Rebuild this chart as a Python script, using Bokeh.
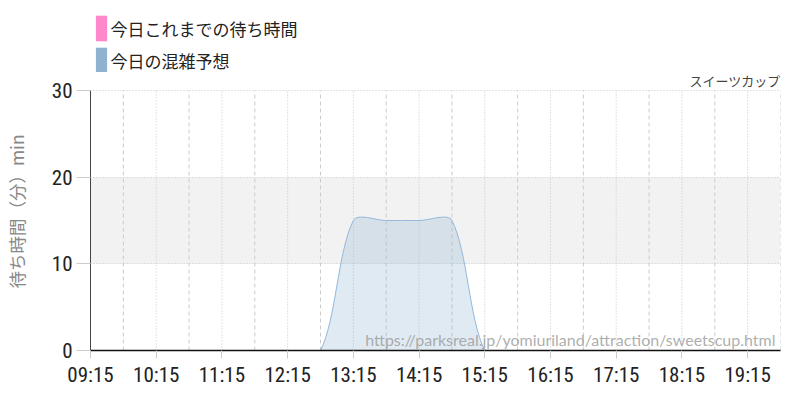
from bokeh.plotting import figure
from bokeh.layouts import column
from bokeh.models import (Range1d, FixedTicker, BoxAnnotation, Label,
                          Legend, LegendItem)
from bokeh.embed import file_html
from bokeh.resources import INLINE

# ---------------- data ----------------
attraction = "スイーツカップ"
series_names = ["今日これまでの待ち時間", "今日の混雑予想"]
y_label = "待ち時間（分）min"
watermark = "https://parksreal.jp/yomiuriland/attraction/sweetscup.html"

times = ["09:15", "09:45", "10:15", "10:45", "11:15", "11:45", "12:15", "12:45",
         "13:15", "13:45", "14:15", "14:45", "15:15", "15:45", "16:15", "16:45",
         "17:15", "17:45", "18:15", "18:45", "19:15", "19:45"]
forecast = [0, 0, 0, 0, 0, 0, 0, 0,
            15, 15, 15, 15, 0, 0, 0, 0,
            0, 0, 0, 0, 0, 0]
today_wait = []          # no recorded values yet
tick_labels = ["09:15", "10:15", "11:15", "12:15", "13:15", "14:15",
               "15:15", "16:15", "17:15", "18:15", "19:15"]
y_ticks = [0, 10, 20, 30]
band = [10, 20]

PINK = "#ff88cc"
BLUE = "#8fb2d0"
TICK_FONT = "Roboto Condensed, Liberation Sans Narrow, Roboto, sans-serif"
JP_FONT = "Noto Sans CJK JP"

W, H = 800, 400
HEAD = 72               # height of the legend strip
LEFT, RIGHT, BOTTOM = 90, 20, 50
TOP_OF_30 = 90 - HEAD   # pixel row of the 30-minute line inside the chart

NAN = float("nan")


def to_h(t):
    hh, mm = t.split(":")
    return int(hh) + int(mm) / 60.0


xs = [to_h(t) for t in times]
tick_pos = [to_h(t) for t in tick_labels]
half_pos = [to_h(t) for t in times if t.endswith(":45")]

main_h = H - HEAD
frame_w = W - LEFT - RIGHT
frame_h = main_h - BOTTOM
y_end = y_ticks[-1] * frame_h / (frame_h - TOP_OF_30)
sx_px = frame_w / (xs[-1] - xs[0])
sy_px = (frame_h - TOP_OF_30) / y_ticks[-1]


def smooth(xv, yv, tension=0.3, sx=sx_px, sy=sy_px, n=16):
    """Render-time spline (Chart.js style) through the data points."""
    pts = [(x * sx, y * sy) for x, y in zip(xv, yv)]
    ctrl = []
    for i, cur in enumerate(pts):
        prv = pts[i - 1] if i > 0 else cur
        nxt = pts[i + 1] if i < len(pts) - 1 else cur
        d01 = ((cur[0] - prv[0]) ** 2 + (cur[1] - prv[1]) ** 2) ** 0.5
        d12 = ((nxt[0] - cur[0]) ** 2 + (nxt[1] - cur[1]) ** 2) ** 0.5
        tot = d01 + d12
        s01 = d01 / tot if tot else 0
        s12 = d12 / tot if tot else 0
        fa, fb = tension * s01, tension * s12
        ctrl.append(((cur[0] - fa * (nxt[0] - prv[0]), cur[1] - fa * (nxt[1] - prv[1])),
                     (cur[0] + fb * (nxt[0] - prv[0]), cur[1] + fb * (nxt[1] - prv[1]))))
    ox, oy = [], []
    for i in range(len(pts) - 1):
        p0, p3 = pts[i], pts[i + 1]
        p1, p2 = ctrl[i][1], ctrl[i + 1][0]
        for k in range(n + (1 if i == len(pts) - 2 else 0)):
            t = k / n
            a, b, c, d = (1 - t) ** 3, 3 * (1 - t) ** 2 * t, 3 * (1 - t) * t ** 2, t ** 3
            ox.append((a * p0[0] + b * p1[0] + c * p2[0] + d * p3[0]) / sx)
            oy.append((a * p0[1] + b * p1[1] + c * p2[1] + d * p3[1]) / sy)
    return ox, oy


# ---------------- legend strip ----------------
head = figure(width=W, height=HEAD, output_backend="svg", toolbar_location=None,
              x_range=Range1d(0, W), y_range=Range1d(0, HEAD),
              x_axis_location=None, y_axis_location=None,
              min_border=0, min_border_left=0, min_border_right=0,
              min_border_top=0, min_border_bottom=0)
head.grid.visible = False
head.outline_line_color = None
head.background_fill_color = "white"
head.border_fill_color = "white"
lg_pink = head.varea(x=[NAN], y1=[NAN], y2=[NAN], fill_color=PINK, fill_alpha=1)
lg_blue = head.varea(x=[NAN], y1=[NAN], y2=[NAN], fill_color=BLUE, fill_alpha=1)
# the column aligns this strip's frame with the chart frame (starting at LEFT)
legend = Legend(items=[LegendItem(label=series_names[0], renderers=[lg_pink]),
                       LegendItem(label=series_names[1], renderers=[lg_blue])],
                location=(3.6, HEAD - 76), orientation="vertical",
                glyph_width=14, glyph_height=32, label_height=32,
                label_standoff=3, spacing=0, padding=0, margin=0,
                border_line_color=None, background_fill_alpha=0,
                label_text_font=JP_FONT,
                label_text_font_size="17px", label_text_color="#222222",
                label_text_baseline="middle")
head.add_layout(legend)

# ---------------- chart ----------------
p = figure(width=W, height=main_h, output_backend="svg", toolbar_location=None,
           x_range=Range1d(xs[0], xs[-1]),
           y_range=Range1d(y_ticks[0], y_end),
           min_border_left=LEFT, min_border_right=RIGHT,
           min_border_top=0, min_border_bottom=BOTTOM)
p.outline_line_color = None
p.background_fill_color = "white"
p.border_fill_color = "white"

p.add_layout(BoxAnnotation(bottom=band[0], top=band[1], fill_color="#f2f2f2",
                           fill_alpha=1, line_color=None, level="image"))

p.xgrid.visible = False
p.ygrid.ticker = FixedTicker(ticks=y_ticks)
p.ygrid.grid_line_color = "#c8c8c8"
p.ygrid.grid_line_dash = "1 2"
p.segment(x0=tick_pos, y0=[y_ticks[0]] * len(tick_pos), x1=tick_pos,
          y1=[y_ticks[-1]] * len(tick_pos),
          line_color="#c8c8c8", line_dash="1 2", line_width=1)
p.segment(x0=half_pos, y0=[y_ticks[0]] * len(half_pos), x1=half_pos,
          y1=[y_ticks[-1]] * len(half_pos),
          line_color="#cccccc", line_dash="4 3", line_width=1)

# today's recorded waits (none yet) and forecast area
wx = [to_h(t) for t, _ in today_wait] if today_wait else [NAN]
wy = [v for _, v in today_wait] if today_wait else [NAN]
p.varea(x=wx, y1=[0] * len(wx), y2=wy, fill_color=PINK, fill_alpha=1)

cx, cy = smooth(xs, forecast)
p.varea(x=cx, y1=[0] * len(cx), y2=cy, fill_color=BLUE, fill_alpha=0.28)
p.line(cx, cy, line_color="#93b7da", line_width=1)

# axes
p.xaxis.ticker = FixedTicker(ticks=tick_pos)
p.xaxis.major_label_overrides = {tp: lab for tp, lab in zip(tick_pos, tick_labels)}
p.xaxis.major_label_text_font = TICK_FONT
p.xaxis.major_label_text_font_size = "21px"
p.xaxis.major_label_text_color = "#222222"
p.xaxis.major_tick_out = 8
p.xaxis.major_tick_in = 0
p.xaxis.major_tick_line_color = "#cccccc"
p.xaxis.minor_tick_line_color = None
p.xaxis.axis_line_color = "#111111"
p.xaxis.axis_line_width = 1.5
p.xaxis.major_label_standoff = 4

p.yaxis.ticker = FixedTicker(ticks=y_ticks)
p.yaxis.bounds = (y_ticks[0], y_ticks[-1])
p.yaxis.major_label_text_font = TICK_FONT
p.yaxis.major_label_text_font_size = "21px"
p.yaxis.major_label_text_color = "#222222"
p.yaxis.major_tick_out = 14
p.yaxis.major_tick_in = 0
p.yaxis.major_tick_line_color = "#cccccc"
p.yaxis.minor_tick_line_color = None
p.yaxis.axis_line_color = "#444444"
p.yaxis.major_label_standoff = 4
p.yaxis.axis_label = y_label
p.yaxis.axis_label_text_font = JP_FONT
p.yaxis.axis_label_text_font_size = "17.5px"
p.yaxis.axis_label_text_font_style = "normal"
p.yaxis.axis_label_text_color = "#888888"
p.yaxis.axis_label_standoff = 20

p.add_layout(Label(x=frame_w, y=frame_h - (79.5 - HEAD), x_units="screen", y_units="screen",
                   text=attraction, text_align="right", text_baseline="middle",
                   text_font=JP_FONT, text_font_size="13px",
                   text_color="#444444"))
p.add_layout(Label(x=frame_w - 5, y=11, x_units="screen", y_units="screen",
                   text=watermark, text_align="right", text_baseline="middle",
                   text_font="Lato", text_font_size="16px",
                   text_color="#999999", text_alpha=0.8))

page = column(head, p, spacing=0)
open("out.html", "w").write(file_html(page, INLINE))
